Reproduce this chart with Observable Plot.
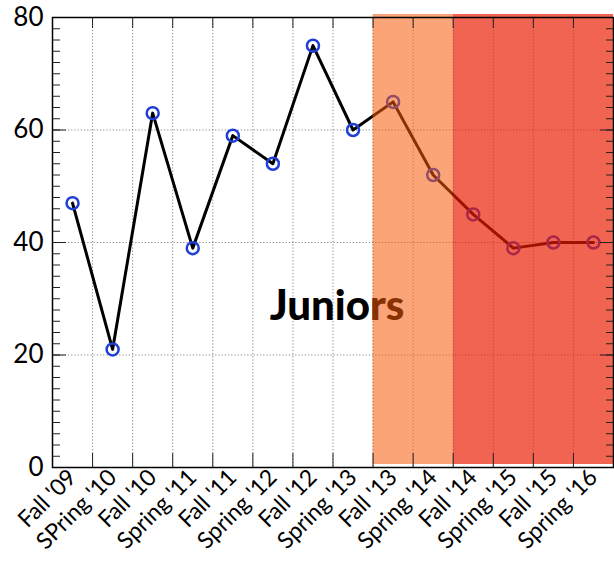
<!DOCTYPE html>
<html>
<head>
<meta charset="utf-8">
<script src="https://cdn.jsdelivr.net/npm/d3@7"></script>
<script src="https://cdn.jsdelivr.net/npm/@observablehq/plot@0.6"></script>
<style>
  html, body { margin: 0; padding: 0; background: #fff; }
  #chart svg { display: block; }
</style>
</head>
<body>
<div id="chart"></div>
<script>
const categories = ["Fall '09", "SPring '10", "Fall '10", "Spring '11", "Fall '11", "Spring '12", "Fall '12", "Spring '13", "Fall '13", "Spring '14", "Fall '14", "Spring '15", "Fall '15", "Spring '16"];
const values = [47, 21, 63, 39, 59, 54, 75, 60, 65, 52, 45, 39, 40, 40];
const yMajorTicks = [0, 20, 40, 60, 80];
const yMinorTicks = d3.range(0, 81, 2);
const gridY = [20, 40, 60];
// shaded periods as category index ranges
const shades = [
  {from: 8, to: 10, color: "#f65a08", opacity: 0.55},
  {from: 10, to: 14, color: "#eb1a00", opacity: 0.68}
];
const annotation = [{label: "Juniors", x: 7.1, y: 28.6}];

const data = categories.map((c, i) => ({i: i + 0.5, cat: c, v: values[i]}));
const boundaries = d3.range(1, categories.length);
const centers = categories.map((c, i) => i + 0.5);

const chart = Plot.plot({
  width: 614,
  height: 565,
  marginLeft: 52,
  marginRight: 1,
  marginTop: 17,
  marginBottom: 98,
  style: {fontFamily: "Lato, 'Open Sans', sans-serif", background: "white"},
  x: {type: "linear", domain: [0, categories.length]},
  y: {type: "linear", domain: [0, 80]},
  marks: [
    Plot.ruleY(gridY, {stroke: "#888", strokeDasharray: "1.2,2", strokeWidth: 1}),
    Plot.ruleX(boundaries, {stroke: "#888", strokeDasharray: "1.2,2", strokeWidth: 1}),
    Plot.line(data, {x: "i", y: "v", stroke: "black", strokeWidth: 3}),
    Plot.dot(data, {x: "i", y: "v", r: 6, stroke: "#1f3fd6", strokeWidth: 2.5, fill: "none"}),
    Plot.text(annotation, {x: "x", y: "y", text: "label", fontSize: 42, fontWeight: 900, fill: "black"}),
    Plot.rectY(shades, {x1: "from", x2: "to", y1: 0, y2: 80, fill: "color", fillOpacity: "opacity", insetTop: -3, insetBottom: 3}),
    Plot.axisY({ticks: yMinorTicks, tickSize: -8, text: null, stroke: "#222"}),
    Plot.axisY({ticks: yMajorTicks, tickSize: -14, text: null, stroke: "#222"}),
    Plot.axisY({anchor: "right", ticks: yMinorTicks, tickSize: -8, text: null, stroke: "#222"}),
    Plot.axisY({anchor: "right", ticks: yMajorTicks, tickSize: -14, text: null, stroke: "#222"}),
    Plot.axisY({ticks: yMajorTicks, tickSize: 0, tickPadding: 9, fontSize: 26, fill: "black", label: null}),
    Plot.axisX({ticks: boundaries, tickSize: -14, text: null, stroke: "#222"}),
    Plot.axisX({anchor: "top", ticks: boundaries, tickSize: -10, text: null, stroke: "#222", label: null}),
    Plot.axisX({ticks: centers, tickSize: 0, tickPadding: 6, tickRotate: -45, fontSize: 23, fill: "black",
      tickFormat: d => categories[Math.floor(d)], label: null}),
    Plot.frame({stroke: "black", strokeWidth: 1.5})
  ]
});
document.getElementById("chart").append(chart);
</script>
</body>
</html>
